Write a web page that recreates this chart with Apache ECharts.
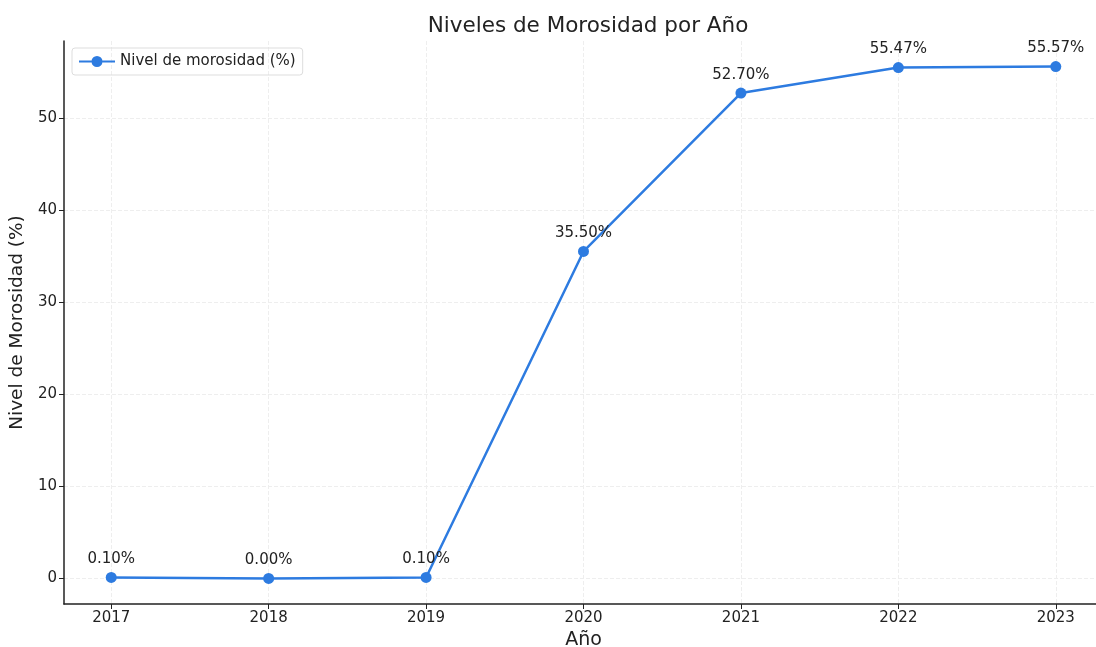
<!DOCTYPE html>
<html><head><meta charset="utf-8">
<script src="https://cdn.jsdelivr.net/npm/echarts@6/dist/echarts.min.js"></script>
<style>html,body{margin:0;padding:0;background:#fff}#c{width:1096px;height:647px}</style>
</head><body><div id="c"></div>
<script>
const years = [2017, 2018, 2019, 2020, 2021, 2022, 2023];
const morosidad = [0.10, 0.00, 0.10, 35.50, 52.70, 55.47, 55.57];
const yTicks = [0, 10, 20, 30, 40, 50];
const seriesName = 'Nivel de morosidad (%)';
const color = '#2d7be0';
const font = 'DejaVu Sans';

const chart = echarts.init(document.getElementById('c'));
chart.setOption({
  backgroundColor: '#fff',
  animation: false,
  title: {text: 'Niveles de Morosidad por Año', left: 583, top: 10, textAlign: 'center',
    textStyle: {fontFamily: font, fontSize: 21.5, fontWeight: 'normal', color: '#222'}},
  legend: {left: 72, top: 48, padding: [6, 7, 6, 7], itemWidth: 36, itemHeight: 11, itemGap: 6,
    borderColor: '#ddd', borderWidth: 1, borderRadius: 3,
    textStyle: {fontFamily: font, fontSize: 15, color: '#222'},
    data: [{name: seriesName, icon: 'path://M0,4.5 L36,4.5 L36,6.5 L0,6.5 Z M18,0 A5.5,5.5 0 1 1 17.99,0 Z'}]},
  grid: {left: 64, right: -7, top: 41, bottom: 43, containLabel: false, outerBoundsMode: 'none'},
  xAxis: {type: 'value', min: 2016.7, max: 2023.3, name: 'Año', nameLocation: 'middle', nameGap: 26,
    nameTextStyle: {fontFamily: font, fontSize: 19, color: '#222'},
    axisLine: {show: true, onZero: false, lineStyle: {color: '#222', width: 1.5}},
    axisTick: {show: true, inside: false, length: 5, customValues: years, lineStyle: {color: '#222'}},
    axisLabel: {customValues: years, fontFamily: font, fontSize: 15, color: '#222', margin: 7, formatter: v => String(v)},
    splitLine: {show: true, lineStyle: {color: '#eee', type: 'dashed', width: 1}}},
  yAxis: {type: 'value', min: -2.78, max: 58.35, name: 'Nivel de Morosidad (%)', nameLocation: 'middle', nameGap: 32,
    nameTextStyle: {fontFamily: font, fontSize: 18.5, color: '#222'},
    axisLine: {show: true, onZero: false, lineStyle: {color: '#222', width: 1.5}},
    axisTick: {show: true, inside: false, length: 5, customValues: yTicks, lineStyle: {color: '#222'}},
    axisLabel: {customValues: yTicks, fontFamily: font, fontSize: 15, color: '#222', margin: 7},
    splitLine: {show: true, lineStyle: {color: '#eee', type: 'dashed', width: 1}}},
  series: [{name: seriesName, type: 'line', data: years.map((y, i) => [y, morosidad[i]]),
    color: color, lineStyle: {width: 2.5, color: color}, symbol: 'circle', symbolSize: 11,
    itemStyle: {color: color},
    label: {show: true, position: 'top', distance: 5, fontFamily: font, fontSize: 15, color: '#222',
      formatter: p => p.value[1].toFixed(2) + '%'}}]
});
</script></body></html>
